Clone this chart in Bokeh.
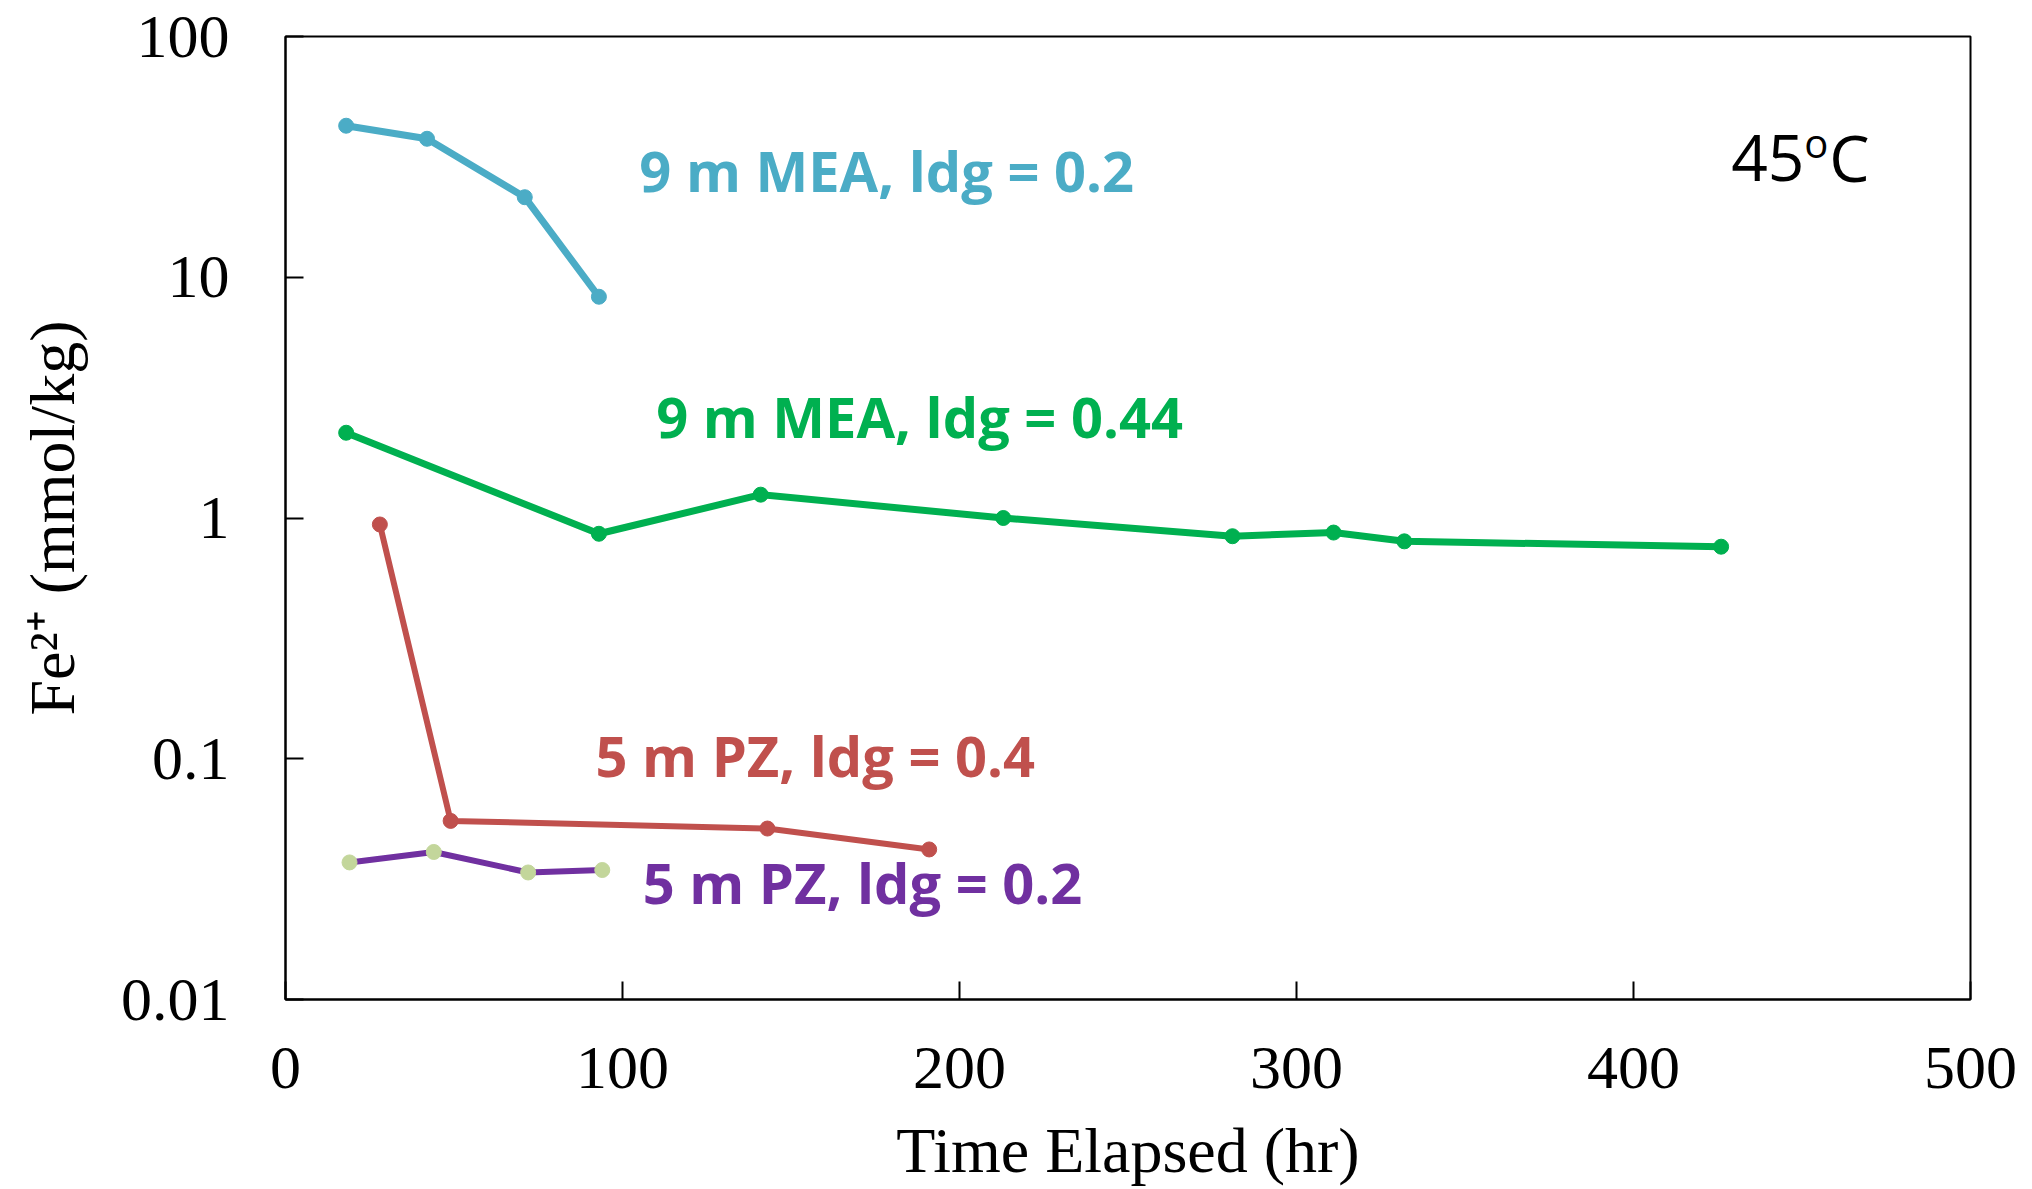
from bokeh.plotting import figure
from bokeh.models import FixedTicker, CustomJSTickFormatter, Label, Range1d
from bokeh.embed import file_html
from bokeh.resources import INLINE

# Data
mea02_t = [18, 42, 71, 93]
mea02_fe = [42.6, 37.6, 21.5, 8.3]

mea044_t = [18, 93, 141, 213, 281, 311, 332, 426]
mea044_fe = [2.26, 0.86, 1.25, 1.0, 0.84, 0.87, 0.80, 0.76]

pz04_t = [28, 49, 143, 191]
pz04_fe = [0.94, 0.0552, 0.0513, 0.042]

pz02_t = [19, 44, 72, 94]
pz02_fe = [0.0371, 0.041, 0.0337, 0.0345]

x_ticks = [0, 100, 200, 300, 400, 500]
y_ticks = [0.01, 0.1, 1, 10, 100]

BLUE = "#4bacc6"
GREEN = "#00b050"
RED = "#c0504d"
PURPLE = "#7030a0"
LIGHTGREEN = "#c3d69b"

p = figure(width=2032, height=1189, y_axis_type="log",
           x_range=Range1d(0, 500), y_range=Range1d(0.01, 100),
           output_backend="svg", toolbar_location=None,
           min_border_left=285, min_border_right=62,
           min_border_top=36, min_border_bottom=190)
p.background_fill_color = "white"
p.border_fill_color = "white"
p.outline_line_color = "black"
p.outline_line_width = 2
p.grid.visible = False

serif = "Liberation Serif"
for ax in (p.xaxis[0], p.yaxis[0]):
    ax.major_tick_in = 18
    ax.major_tick_out = 0
    ax.minor_tick_in = 0
    ax.minor_tick_out = 0
    ax.axis_line_color = "black"
    ax.axis_line_width = 2
    ax.major_tick_line_width = 2
    ax.major_label_text_font = serif
    ax.major_label_text_font_size = "62px"
    ax.major_label_text_color = "black"
    ax.axis_label_text_font = serif
    ax.axis_label_text_font_size = "64px"
    ax.axis_label_text_font_style = "normal"
    ax.axis_label_text_color = "black"

p.xaxis.ticker = FixedTicker(ticks=x_ticks)
p.yaxis.ticker = FixedTicker(ticks=y_ticks)
p.yaxis.formatter = CustomJSTickFormatter(code="return tick.toString();")
p.xaxis.major_label_standoff = 48
p.yaxis.major_label_standoff = 56
p.xaxis.axis_label = "Time Elapsed (hr)"
p.yaxis.axis_label = "Fe²⁺ (mmol/kg)"
p.xaxis.axis_label_standoff = 24
p.yaxis.axis_label_standoff = 30

p.line(mea02_t, mea02_fe, line_color=BLUE, line_width=7)
p.scatter(mea02_t, mea02_fe, size=15, fill_color=BLUE, line_color=BLUE)

p.line(mea044_t, mea044_fe, line_color=GREEN, line_width=7)
p.scatter(mea044_t, mea044_fe, size=15, fill_color=GREEN, line_color=GREEN)

p.line(pz04_t, pz04_fe, line_color=RED, line_width=6)
p.scatter(pz04_t, pz04_fe, size=15, fill_color=RED, line_color=RED)

p.line(pz02_t, pz02_fe, line_color=PURPLE, line_width=6)
p.scatter(pz02_t, pz02_fe, size=15, fill_color=LIGHTGREEN, line_color=LIGHTGREEN)

lab_font = "Open Sans"
def add_label(x, y, text, color):
    p.add_layout(Label(x=x, y=y, y_offset=4, text=text, text_color=color,
                       text_font=lab_font, text_font_style="bold",
                       text_font_size="56px", text_align="left",
                       text_baseline="middle"))

add_label(105, 26.9, "9 m MEA, ldg = 0.2", BLUE)
add_label(110, 2.56, "9 m MEA, ldg = 0.44", GREEN)
add_label(92, 0.1, "5 m PZ, ldg = 0.4", RED)
add_label(106, 0.0297, "5 m PZ, ldg = 0.2", PURPLE)

# 45°C annotation with superscript o
p.add_layout(Label(x=429, y=30.5, y_offset=3, text="45", text_color="black",
                   text_font=lab_font, text_font_size="64px",
                   text_align="left", text_baseline="middle"))
p.add_layout(Label(x=429, y=30.5, x_offset=73, y_offset=18, text="o",
                   text_color="black", text_font=lab_font,
                   text_font_size="40px", text_align="left",
                   text_baseline="middle"))
p.add_layout(Label(x=429, y=30.5, x_offset=98, y_offset=3, text="C",
                   text_color="black", text_font=lab_font,
                   text_font_size="64px", text_align="left",
                   text_baseline="middle"))

open("out.html", "w").write(file_html(p, INLINE))
